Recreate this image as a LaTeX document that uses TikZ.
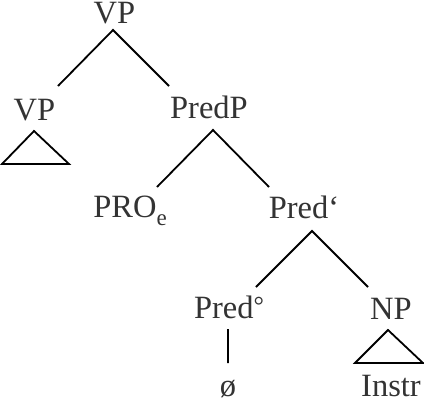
\documentclass[tikz,border=0pt]{standalone}
\usepackage{fontspec}
\setmainfont{Liberation Serif}
\definecolor{labelgray}{HTML}{333333}
\tikzset{cat/.style={anchor=base,text=labelgray,inner sep=0pt,font=\fontsize{32.5}{39}\selectfont}}
\begin{document}
\begin{tikzpicture}[x=1pt,y=-1pt,line width=1.8pt]
\useasboundingbox (0,0) rectangle (424,400);
\path
(113,30) coordinate (A)
(58,86) coordinate (B)
(169,86) coordinate (C)
(34,131) coordinate (D)
(2,164) coordinate (E)
(69,164) coordinate (F)
(213,130) coordinate (G)
(157,187) coordinate (H)
(269,187) coordinate (I)
(312,231) coordinate (J)
(256,287) coordinate (K)
(368,287) coordinate (L)
(228,329) coordinate (M)
(228,363) coordinate (N)
(388,330) coordinate (P)
(355,363) coordinate (Q)
(423,363) coordinate (R)
;
\node[cat] (vp) at (114.5,23) {VP};
\node[cat] (vpl) at (34.5,120) {VP};
\node[cat] (predp) at (209,118.5) {PredP};
\node[cat] (pro) at (130,217) {PRO\raisebox{-8pt}{\fontsize{23}{23}\selectfont e}};
\node[cat] (predbar) at (304,218) {Pred‘};
\node[cat] (pred) at (229,318) {Pred\raisebox{4pt}{\fontsize{26}{26}\selectfont °}};
\node[cat] (np) at (391,319) {NP};
\node[cat] (null) at (228,396) {ø};
\node[cat] (instr) at (391,396) {Instr};
\draw (B)--(A)--(C) (H)--(G)--(I) (K)--(J)--(L) (M)--(N);
\draw (D)--(E)--(F)--cycle (P)--(Q)--(R)--cycle;
\end{tikzpicture}
\end{document}
